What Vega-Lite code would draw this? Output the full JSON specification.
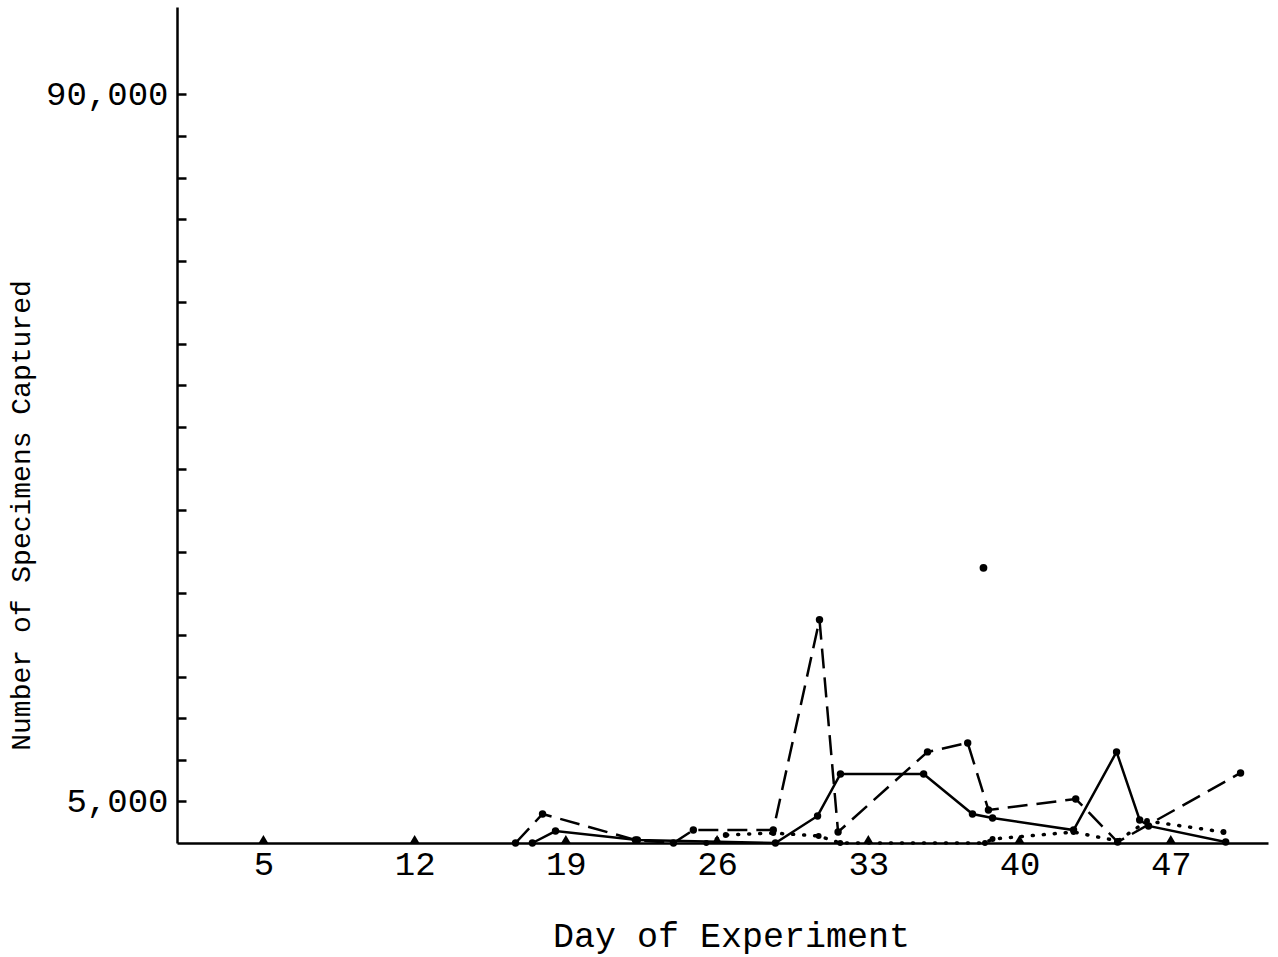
{
  "$schema": "https://vega.github.io/schema/vega-lite/v6.json",
  "autosize": {"type": "none"},
  "padding": {"left": 177, "top": 7, "right": 10, "bottom": 114},
  "width": 1091,
  "height": 836,
  "background": "white",
  "config": {
    "view": {"stroke": null},
    "font": "Liberation Mono",
    "axis": {"grid": false, "domainColor": "black", "domainWidth": 2.5, "labelColor": "black", "titleColor": "black", "tickColor": "black", "labelFont": "Liberation Mono", "titleFont": "Liberation Mono", "titleFontWeight": "normal"}
  },
  "datasets": {
    "solid": [
      {"day": 17.45, "count": 0},
      {"day": 18.52, "count": 1440},
      {"day": 22.31, "count": 360},
      {"day": 28.7, "count": 0},
      {"day": 30.65, "count": 3250},
      {"day": 31.71, "count": 8300},
      {"day": 35.56, "count": 8300},
      {"day": 37.82, "count": 3490},
      {"day": 38.75, "count": 3010},
      {"day": 42.5, "count": 1560},
      {"day": 44.49, "count": 10950},
      {"day": 45.56, "count": 2770},
      {"day": 45.97, "count": 2050},
      {"day": 49.54, "count": 120}
    ],
    "dashed": [
      {"day": 16.67, "count": 0},
      {"day": 17.92, "count": 3490},
      {"day": 22.22, "count": 360},
      {"day": 23.98, "count": 0},
      {"day": 24.9, "count": 1560},
      {"day": 28.6, "count": 1560},
      {"day": 30.74, "count": 26830},
      {"day": 31.6, "count": 1320},
      {"day": 35.74, "count": 10950},
      {"day": 37.6, "count": 12030},
      {"day": 38.56, "count": 3970},
      {"day": 42.6, "count": 5290},
      {"day": 44.54, "count": 120},
      {"day": 50.23, "count": 8420}
    ],
    "dotted": [
      {"day": 25.5, "count": 0},
      {"day": 26.4, "count": 960},
      {"day": 28.6, "count": 1200},
      {"day": 30.7, "count": 840},
      {"day": 31.7, "count": 0},
      {"day": 38.4, "count": 0},
      {"day": 38.75, "count": 480},
      {"day": 42.5, "count": 1320},
      {"day": 44.54, "count": 240},
      {"day": 45.9, "count": 2650},
      {"day": 49.44, "count": 1320}
    ],
    "weekly": [
      {"day": 5, "count": 0},
      {"day": 12, "count": 0},
      {"day": 19, "count": 0},
      {"day": 26, "count": 0},
      {"day": 33, "count": 0},
      {"day": 40, "count": 0},
      {"day": 47, "count": 0}
    ],
    "stray": [
      {"day": 38.33, "count": 33080}
    ]
  },
  "encoding": {
    "x": {
      "field": "day", "type": "quantitative",
      "scale": {"domain": [1, 51.5], "nice": false, "zero": false},
      "axis": {
        "values": [5, 12, 19, 26, 33, 40, 47],
        "ticks": false,
        "labelFontSize": 34,
        "labelPadding": 4,
        "title": "Day of Experiment",
        "titleFontSize": 35,
        "titleX": 554,
        "titleY": 103,
        "titleAlign": "center",
        "titleBaseline": "alphabetic"
      }
    },
    "y": {
      "field": "count", "type": "quantitative",
      "scale": {"domain": [0, 100500], "nice": false},
      "axis": {
        "values": [5000, 10000, 15000, 20000, 25000, 30000, 35000, 40000, 45000, 50000, 55000, 60000, 65000, 70000, 75000, 80000, 85000, 90000],
        "tickSize": -9,
        "tickWidth": 2.5,
        "labelExpr": "(datum.value == 5000 || datum.value == 90000) ? format(datum.value, ',') : ''",
        "labelFontSize": 34,
        "labelPadding": 18,
        "labelBaseline": "middle",
        "title": "Number of Specimens Captured",
        "titleFontSize": 28,
        "titleAngle": 270,
        "titleX": -156,
        "titleY": 508,
        "titleAlign": "center",
        "titleBaseline": "middle"
      }
    }
  },
  "layer": [
    {"data": {"name": "solid"}, "mark": {"type": "line", "color": "black", "strokeWidth": 2.5}},
    {"data": {"name": "dashed"}, "mark": {"type": "line", "color": "black", "strokeWidth": 2.5, "strokeDash": [20, 9]}},
    {"data": {"name": "dotted"}, "mark": {"type": "line", "color": "black", "strokeWidth": 3.5, "strokeDash": [1, 10], "strokeCap": "round"}},
    {"data": {"name": "solid"}, "mark": {"type": "point", "filled": true, "color": "black", "size": 55, "opacity": 1}},
    {"data": {"name": "dashed"}, "mark": {"type": "point", "filled": true, "color": "black", "size": 55, "opacity": 1}},
    {"data": {"name": "dotted"}, "mark": {"type": "point", "filled": true, "color": "black", "size": 35, "opacity": 1}},
    {"data": {"name": "weekly"}, "mark": {"type": "point", "shape": "triangle-up", "filled": true, "color": "black", "size": 90, "opacity": 1, "yOffset": -4}},
    {"data": {"name": "stray"}, "mark": {"type": "point", "filled": true, "color": "black", "size": 60, "opacity": 1}}
  ]
}
